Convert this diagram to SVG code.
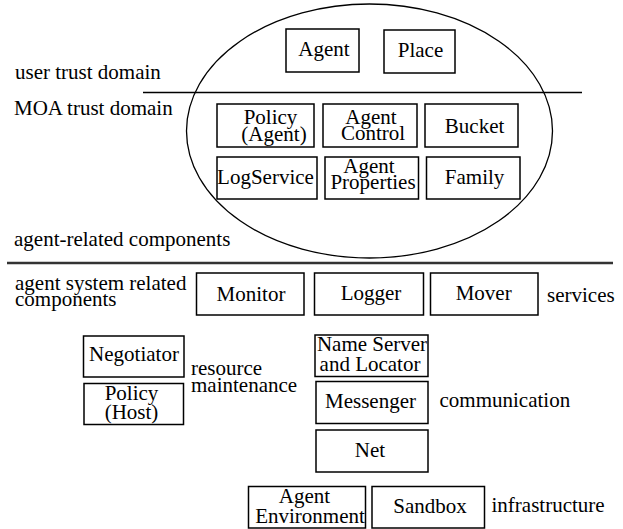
<svg xmlns="http://www.w3.org/2000/svg" width="623" height="529" viewBox="0 0 623 529">
<defs>
<style>
.c{text-anchor:middle}
.box{fill:#fff;stroke:#000;stroke-width:1.5}
</style>
</defs>
<rect width="623" height="529" fill="#fff"/>
<g id="domains">
<ellipse cx="369.5" cy="131" rx="183" ry="127" fill="none" stroke="#000" stroke-width="1.3"/>
<line x1="143" y1="92.5" x2="582" y2="92.5" stroke="#000" stroke-width="1.3"/>
<line x1="7" y1="263" x2="613" y2="263" stroke="#333" stroke-width="2.5"/>
</g>
<g font-family="Liberation Serif" font-size="21" fill="#000">
<g id="labels">
<text x="15" y="79">user trust domain</text>
<text x="14" y="115">MOA trust domain</text>
<text x="14" y="246">agent-related components</text>
<text x="15" y="290">agent system related</text>
<text x="15" y="306">components</text>
<text x="547" y="302">services</text>
<text x="191" y="374.5">resource</text>
<text x="191" y="392">maintenance</text>
<text x="439.5" y="407">communication</text>
<text x="491.5" y="512">infrastructure</text>
</g>
<g id="agent"><rect class="box" x="286" y="29" width="73" height="43"/><text class="c" x="324" y="56">Agent</text></g>
<g id="place"><rect class="box" x="384" y="30" width="71" height="43"/><text class="c" x="420.5" y="56.5">Place</text></g>
<g id="policy-agent"><rect class="box" x="217" y="104" width="97" height="43"/><text class="c" x="270.5" y="123.5">Policy</text><text class="c" x="274" y="141">(Agent)</text></g>
<g id="agent-control"><rect class="box" x="323" y="104" width="94" height="43"/><text class="c" x="371" y="123.5">Agent</text><text class="c" x="373" y="140">Control</text></g>
<g id="bucket"><rect class="box" x="425" y="104" width="93" height="43"/><text class="c" x="474.6" y="132.5">Bucket</text></g>
<g id="logservice"><rect class="box" x="217" y="157" width="100" height="42"/><text class="c" x="265.5" y="183.5">LogService</text></g>
<g id="agent-properties"><rect class="box" x="325" y="157" width="93.5" height="42"/><text class="c" x="369" y="173">Agent</text><text class="c" x="373" y="188.5">Properties</text></g>
<g id="family"><rect class="box" x="426.5" y="157" width="93.5" height="42"/><text class="c" x="474.6" y="184">Family</text></g>
<g id="monitor"><rect class="box" x="196.5" y="273" width="107.5" height="42"/><text class="c" x="251" y="300.5">Monitor</text></g>
<g id="logger"><rect class="box" x="314.5" y="273" width="109" height="42"/><text class="c" x="371" y="300">Logger</text></g>
<g id="mover"><rect class="box" x="430.5" y="273" width="107.5" height="42"/><text class="c" x="483.7" y="300">Mover</text></g>
<g id="negotiator"><rect class="box" x="83.5" y="336" width="100.5" height="41"/><text class="c" x="134" y="360.5">Negotiator</text></g>
<g id="policy-host"><rect class="box" x="84" y="383.5" width="99.5" height="41"/><text class="c" x="131.5" y="399.5">Policy</text><text class="c" x="131.5" y="419">(Host)</text></g>
<g id="name-server"><rect class="box" x="315" y="335" width="113" height="41.5"/><text class="c" x="372" y="350.5">Name Server</text><text class="c" x="370" y="371">and Locator</text></g>
<g id="messenger"><rect class="box" x="316" y="381.5" width="112" height="42"/><text class="c" x="370.5" y="407.5">Messenger</text></g>
<g id="net"><rect class="box" x="316" y="430" width="112" height="42"/><text class="c" x="370" y="456.5">Net</text></g>
<g id="agent-environment"><rect class="box" x="248.5" y="486.5" width="117" height="41.5"/><text class="c" x="304.5" y="503">Agent</text><text class="c" x="310" y="523">Environment</text></g>
<g id="sandbox"><rect class="box" x="372" y="486.5" width="112.5" height="41.5"/><text class="c" x="430" y="512.5">Sandbox</text></g>
</g>
<g id="connectors"></g>
</svg>
